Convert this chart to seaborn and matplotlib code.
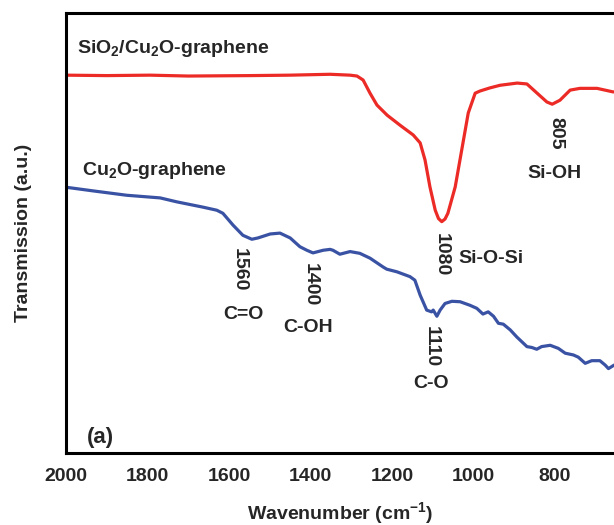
import matplotlib
matplotlib.use('Agg')
import matplotlib.pyplot as plt
import seaborn as sns
import pandas as pd
import numpy as np

# FTIR spectra (wavenumber in cm-1, transmission in a.u.)
red_wn = [2000, 1900, 1794, 1700, 1548, 1450, 1352, 1303, 1286, 1271, 1254, 1237,
          1212, 1180, 1148, 1131, 1119, 1107, 1094, 1086, 1078, 1070, 1063, 1045, 1029, 1013,
          996, 984, 960, 935, 893, 869, 844, 820, 807, 788, 763, 739, 697, 658, 591]
red_t = [85.9, 85.8, 85.9, 85.7, 85.8, 85.9, 86.1, 85.9, 85.7, 84.8, 81.8, 79.1,
         76.8, 74.5, 72.3, 70.5, 66.6, 60.5, 55.2, 53.3, 52.6, 53.2, 54.5, 60.5, 68.9, 77.3,
         81.8, 82.3, 83.0, 83.6, 84.1, 83.9, 81.8, 79.8, 79.3, 80.2, 82.5, 82.9,
         82.9, 82.1, 82.0]

blue_wn = [1998, 1934, 1851, 1769, 1728, 1664, 1630, 1615, 1590, 1566, 1544, 1529,
           1499, 1475, 1450, 1426, 1409, 1394, 1369, 1352, 1345, 1328, 1303, 1279,
           1254, 1222, 1213, 1188, 1156, 1144, 1131, 1115, 1103, 1099, 1090, 1082,
           1070, 1053, 1033, 1009, 992, 977, 964, 951, 939, 927, 910, 894, 869,
           857, 845, 833, 812, 792, 775, 755, 743, 726, 710, 690, 677, 669, 655, 616]
blue_t = [60.4, 59.6, 58.6, 58.0, 57.1, 55.9, 55.2, 54.5, 51.8, 49.5, 48.6, 48.9,
          49.8, 50.0, 48.9, 46.9, 46.1, 45.5, 46.1, 46.3, 46.1, 45.2, 45.8, 45.4,
          44.3, 42.3, 41.8, 41.2, 40.1, 39.3, 35.9, 32.5, 32.1, 32.5, 31.1, 32.5,
          34.0, 34.5, 34.4, 33.6, 32.9, 31.6, 32.1, 31.1, 29.5, 29.3, 28.0, 26.4, 24.2,
          24.0, 23.6, 24.2, 24.5, 23.8, 22.7, 22.3, 21.8, 20.4, 21.0, 21.0, 20.0, 19.2, 20.0, 19.8]

samples = ['SiO2/Cu2O-graphene', 'Cu2O-graphene']
colors = {'SiO2/Cu2O-graphene': '#ec2a26', 'Cu2O-graphene': '#3a52a3'}
xticks = [2000, 1800, 1600, 1400, 1200, 1000, 800]

df = pd.concat([
    pd.DataFrame({'wn': red_wn, 'T': red_t, 'sample': samples[0]}),
    pd.DataFrame({'wn': blue_wn, 'T': blue_t, 'sample': samples[1]}),
])

sns.set_style('white')
plt.rcParams['font.family'] = ['Liberation Sans', 'DejaVu Sans']
plt.rcParams['font.weight'] = 'bold'
plt.rcParams['mathtext.fontset'] = 'custom'
plt.rcParams['mathtext.rm'] = 'Liberation Sans'
plt.rcParams['mathtext.bf'] = 'Liberation Sans:bold'
plt.rcParams['mathtext.default'] = 'bf'

fig = plt.figure(figsize=(6.14, 5.25), dpi=100)
# the reference is cropped on the right, so the axes runs past the figure edge
ax = fig.add_axes([0.1075, 0.137, 1.062, 0.838])

sns.lineplot(data=df, x='wn', y='T', hue='sample', palette=colors,
             estimator=None, sort=False, linewidth=2.3, legend=False, ax=ax)

ax.set_xlim(2000, 400)
ax.set_ylim(0, 100)
ax.set_xticks(xticks)
ax.set_yticks([])
ax.tick_params(axis='x', length=0, pad=11, labelsize=14)
for lab in ax.get_xticklabels():
    lab.set_fontweight('bold')
for side in ['top', 'bottom', 'left', 'right']:
    ax.spines[side].set_linewidth(2.2)
    ax.spines[side].set_color('black')

ax.set_xlabel('Wavenumber (cm$^{-1}$)', fontsize=14, fontweight='bold')
ax.set_ylabel('Transmission (a.u.)', fontsize=14, fontweight='bold')
ax.xaxis.set_label_coords(0.42, -0.107)
ax.yaxis.set_label_coords(-0.052, 0.5)

# sample names
ax.text(1972, 92, 'SiO$_2$/Cu$_2$O-graphene', fontsize=14, fontweight='bold',
        ha='left', va='center')
ax.text(1960, 64.3, 'Cu$_2$O-graphene', fontsize=14, fontweight='bold',
        ha='left', va='center')
ax.text(1950, 3.6, '(a)', fontsize=16, fontweight='bold', ha='left', va='center')

# peak annotations: (wavenumber, y) for the number and the group label
peaks = [('1560', 'C=O', 1574, 41.6, 1564, 31.4),
         ('1400', 'C-OH', 1400, 38.2, 1406, 28.6),
         ('1080', None, 1079, 45.2, None, None),
         ('1110', 'C-O', 1104, 24.3, 1104, 15.9),
         ('805', 'Si-OH', 797, 72.7, 802, 63.6)]
for num, grp, nx, ny, gx, gy in peaks:
    ax.text(nx, ny, num, rotation=270, fontsize=14, fontweight='bold',
            ha='center', va='center')
    if grp:
        ax.text(gx, gy, grp, fontsize=14, fontweight='bold', ha='center', va='center')
ax.text(957, 44.3, 'Si-O-Si', fontsize=14, fontweight='bold', ha='center', va='center')

plt.savefig('out.png', dpi=100)
plt.close()
